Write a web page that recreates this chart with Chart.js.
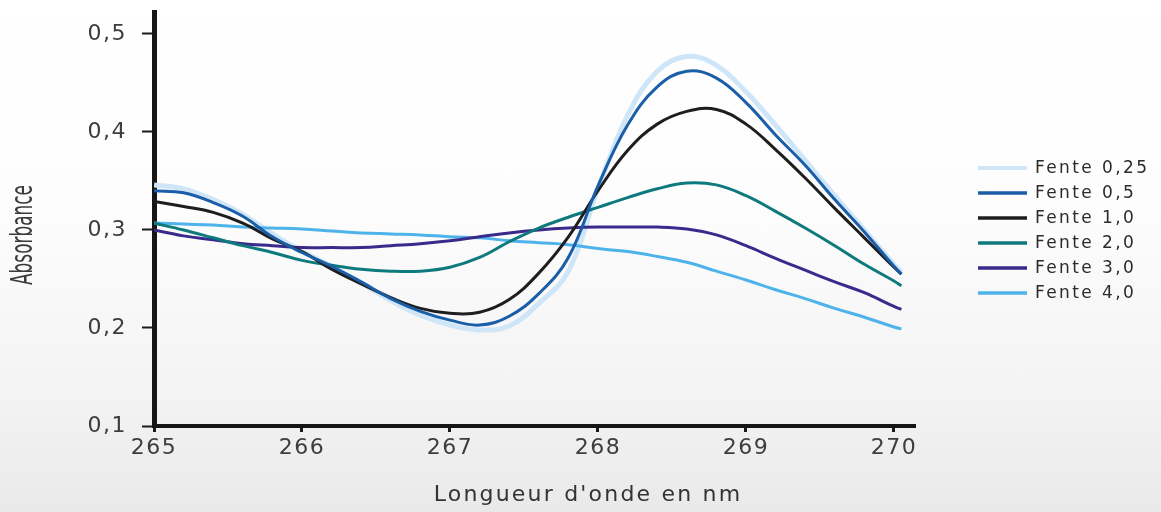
<!DOCTYPE html>
<html>
<head>
<meta charset="utf-8">
<title>Absorbance</title>
<script src="https://cdn.jsdelivr.net/npm/chart.js@4.4.0/dist/chart.umd.min.js"></script>
<style>
  html, body { margin: 0; padding: 0; }
  body {
    width: 1161px; height: 512px; overflow: hidden;
    background: linear-gradient(180deg, #ffffff 0%, #fdfdfd 40%, #f3f3f3 78%, #e9e9e9 100%);
  }
  canvas { display: block; }
</style>
</head>
<body>
<canvas id="spectrum" width="1161" height="512"></canvas>
<script>
// wavelength (nm) shared by every curve
const wavelengths = [265.0, 265.2, 265.4, 265.6, 265.8, 266.0, 266.2, 266.4, 266.6, 266.8,
  267.0, 267.2, 267.4, 267.6, 267.8, 268.0, 268.2, 268.4, 268.6, 268.8,
  269.0, 269.2, 269.4, 269.6, 269.8, 270.0, 270.05];

// absorbance for each slit width
const fente025 = [0.346, 0.342, 0.331, 0.316, 0.296, 0.278, 0.263, 0.246, 0.228, 0.213,
  0.203, 0.198, 0.202, 0.225, 0.258, 0.342, 0.417, 0.462, 0.477, 0.468,
  0.441, 0.407, 0.371, 0.335, 0.300, 0.265, 0.257];
const fente05 = [0.340, 0.338, 0.328, 0.314, 0.293, 0.277, 0.263, 0.247, 0.230, 0.217,
  0.208, 0.203, 0.212, 0.235, 0.272, 0.345, 0.407, 0.446, 0.462, 0.455,
  0.430, 0.397, 0.366, 0.331, 0.298, 0.263, 0.255];
const fente10 = [0.329, 0.324, 0.318, 0.307, 0.291, 0.278, 0.260, 0.245, 0.231, 0.220,
  0.215, 0.216, 0.229, 0.256, 0.293, 0.340, 0.381, 0.408, 0.421, 0.423,
  0.408, 0.382, 0.353, 0.322, 0.292, 0.262, 0.255];
const fente20 = [0.307, 0.300, 0.292, 0.284, 0.277, 0.269, 0.264, 0.260, 0.258, 0.258,
  0.262, 0.272, 0.288, 0.302, 0.313, 0.323, 0.333, 0.342, 0.348, 0.346,
  0.335, 0.319, 0.302, 0.284, 0.265, 0.248, 0.243];
const fente30 = [0.300, 0.294, 0.290, 0.286, 0.284, 0.282, 0.282, 0.282, 0.284, 0.286,
  0.289, 0.293, 0.297, 0.300, 0.302, 0.303, 0.303, 0.303, 0.301, 0.295,
  0.284, 0.271, 0.259, 0.247, 0.236, 0.222, 0.219];
const fente40 = [0.307, 0.306, 0.305, 0.303, 0.302, 0.301, 0.299, 0.297, 0.296, 0.295,
  0.293, 0.292, 0.289, 0.287, 0.285, 0.281, 0.278, 0.273, 0.267, 0.258,
  0.249, 0.239, 0.230, 0.220, 0.211, 0.201, 0.199];

const seriesNames = ['Fente 0,25', 'Fente 0,5', 'Fente 1,0', 'Fente 2,0', 'Fente 3,0', 'Fente 4,0'];
const xTicks = [265, 266, 267, 268, 269, 270];
const yTicks = [0.1, 0.2, 0.3, 0.4, 0.5];
const xTitle = "Longueur d'onde en nm";
const yTitle = 'Absorbance';

const toPoints = vals => vals.map((v, i) => ({ x: wavelengths[i], y: v }));

function line(label, values, color, width, order) {
  return {
    label: label,
    data: toPoints(values),
    borderColor: color,
    backgroundColor: color,
    borderWidth: width,
    pointRadius: 0,
    tension: 0.4,
    fill: false,
    order: order
  };
}

// slightly spaced lettering for the tick labels
const spacedText = {
  id: 'spacedText',
  beforeDraw(chart) { chart.ctx.letterSpacing = '1.5px'; }
};

const axisTitles = {
  id: 'axisTitles',
  afterDraw(chart, args, opts) {
    const ctx = chart.ctx;
    ctx.save();
    ctx.letterSpacing = '0px';
    ctx.fillStyle = '#3a3a3a';
    ctx.font = '31px "Liberation Sans Narrow", "DejaVu Sans Condensed", sans-serif';
    const w = ctx.measureText(yTitle).width;
    ctx.translate(opts.yX, opts.yY);
    ctx.rotate(-Math.PI / 2);
    ctx.scale(opts.yLength / w, 1);
    ctx.textAlign = 'center';
    ctx.textBaseline = 'middle';
    ctx.fillText(yTitle, 0, 0);
    ctx.restore();

    ctx.save();
    ctx.letterSpacing = '2.2px';
    ctx.fillStyle = '#333333';
    ctx.font = '22px "DejaVu Sans", sans-serif';
    ctx.textAlign = 'center';
    ctx.textBaseline = 'middle';
    ctx.fillText(xTitle, opts.xX, opts.xY);
    ctx.restore();
  }
};

// legend column to the right of the plot
const sideLegend = {
  id: 'sideLegend',
  afterDraw(chart, args, opts) {
    const ctx = chart.ctx;
    ctx.save();
    chart.data.datasets.forEach((ds, i) => {
      const y = opts.top + i * opts.step;
      ctx.strokeStyle = ds.borderColor;
      ctx.lineWidth = i === 0 ? 4 : 3.5;
      ctx.beginPath();
      ctx.moveTo(opts.left, y);
      ctx.lineTo(opts.left + opts.lineLength, y);
      ctx.stroke();
      ctx.letterSpacing = '2.4px';
      ctx.fillStyle = '#2b2b2b';
      ctx.font = '17px "DejaVu Sans", sans-serif';
      ctx.textAlign = 'left';
      ctx.textBaseline = 'middle';
      ctx.fillText(ds.label, opts.left + opts.lineLength + 8, y + 1);
    });
    ctx.restore();
  }
};

const tickFont = { family: '"DejaVu Sans", sans-serif', size: 22 };

// fixed box sizes so the plot area lands where it should
const fitBox = size => s => {
  if (s.isHorizontal()) s.height = size; else s.width = size;
  s.paddingTop = 0; s.paddingBottom = 0; s.paddingLeft = 0; s.paddingRight = 0;
};

new Chart('spectrum', {
  type: 'line',
  data: {
    datasets: [
      line(seriesNames[0], fente025, '#cfe6f8', 5, 6),
      line(seriesNames[1], fente05, '#1a5ea8', 3, 1),
      line(seriesNames[2], fente10, '#1e1e1e', 3, 2),
      line(seriesNames[3], fente20, '#0f7a7d', 3, 3),
      line(seriesNames[4], fente30, '#3a2a8c', 3, 4),
      line(seriesNames[5], fente40, '#4db3ea', 3, 5)
    ]
  },
  options: {
    responsive: false,
    animation: false,
    devicePixelRatio: 1,
    layout: { padding: { top: 12, left: 20, right: 246, bottom: 0 } },
    plugins: {
      legend: { display: false },
      tooltip: { enabled: false },
      axisTitles: { yX: 24, yY: 235, yLength: 100, xX: 588, xY: 495 },
      sideLegend: { left: 978, top: 168, step: 25, lineLength: 49 }
    },
    scales: {
      x: {
        type: 'linear',
        min: 265,
        max: 270.142,
        afterBuildTicks: s => { s.ticks = xTicks.map(v => ({ value: v })); },
        afterFit: fitBox(86),
        ticks: {
          font: tickFont,
          color: '#3d3d3d',
          padding: 3,
          maxRotation: 0,
          callback: v => String(v)
        },
        grid: {
          drawOnChartArea: false,
          drawTicks: true,
          tickLength: 6,
          tickWidth: 3,
          tickColor: '#1a1a1a'
        },
        border: { display: true, color: '#161616', width: 4 }
      },
      y: {
        min: 0.1,
        max: 0.5224,
        afterBuildTicks: s => { s.ticks = yTicks.map(v => ({ value: v })); },
        afterFit: fitBox(134),
        ticks: {
          font: tickFont,
          color: '#3d3d3d',
          padding: 15,
          callback: v => v.toFixed(1).replace('.', ',')
        },
        grid: {
          drawOnChartArea: false,
          drawTicks: true,
          tickLength: 12,
          tickWidth: 2,
          tickColor: '#1a1a1a'
        },
        border: { display: true, color: '#161616', width: 5 }
      }
    }
  },
  plugins: [spacedText, axisTitles, sideLegend]
});
</script>
</body>
</html>
